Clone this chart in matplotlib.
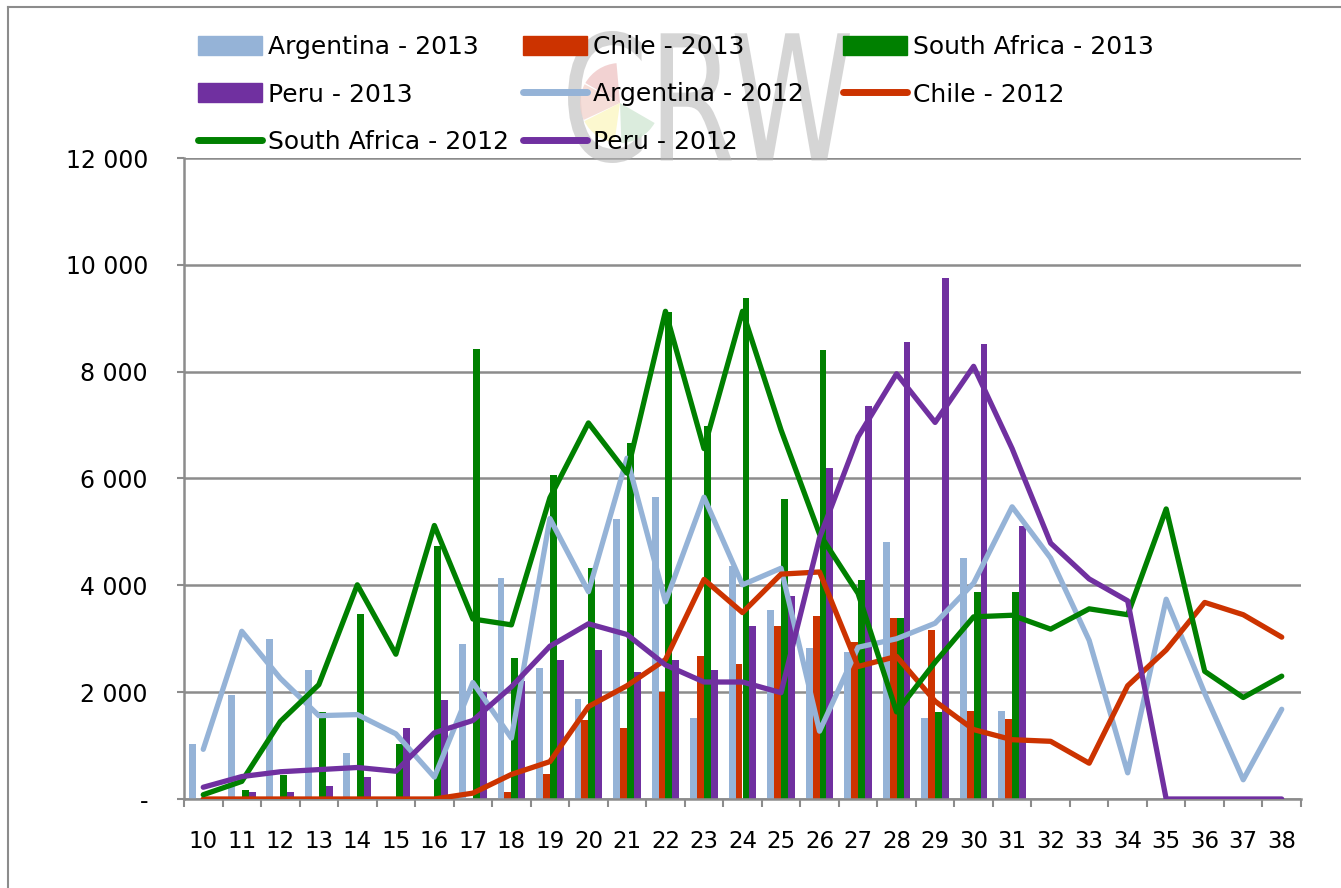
import numpy as np
import matplotlib.pyplot as plt
from matplotlib.patches import Rectangle, PathPatch, Wedge
from matplotlib.lines import Line2D
from matplotlib.textpath import TextPath
from matplotlib.font_manager import FontProperties
from matplotlib.transforms import Affine2D

weeks = list(range(10, 39))

# 2013 weekly volumes (bars), weeks 10-31
arg_2013 = [1030, 1950, 3000, 2410, 870, 0, 0, 2900, 4140, 2450, 1880, 5250, 5660, 1510,
            4370, 3540, 2820, 2750, 4810, 1510, 4510, 1650]
chi_2013 = [0, 0, 0, 0, 0, 0, 0, 0, 130, 460, 1470, 1320, 2000, 2670,
            2530, 3240, 3420, 2930, 3390, 3160, 1650, 1500]
saf_2013 = [0, 160, 440, 1620, 3460, 1030, 4730, 8430, 2640, 6070, 4320, 6670, 9120, 6980,
            9380, 5610, 8400, 4100, 3390, 1630, 3870, 3870]
per_2013 = [0, 130, 130, 240, 420, 1320, 1850, 2000, 2200, 2600, 2790, 2370, 2600, 2410,
            3240, 3800, 6200, 7360, 8560, 9750, 8510, 5120]

# 2012 weekly volumes (lines), weeks 10-38
arg_2012 = [930, 3140, 2260, 1560, 1580, 1220, 410, 2180, 1140, 5250, 3880, 6380, 3690, 5650,
            4010, 4320, 1270, 2840, 3000, 3290, 4040, 5470, 4510, 2970, 490, 3740, 1980, 360, 1680]
chi_2012 = [0, 0, 0, 0, 0, 0, 0, 110, 460, 700, 1730, 2120, 2610, 4110,
            3490, 4210, 4250, 2480, 2670, 1830, 1300, 1110, 1080, 670, 2120, 2790, 3680, 3450, 3030]
saf_2012 = [80, 330, 1450, 2140, 4010, 2710, 5120, 3370, 3260, 5640, 7040, 6100, 9130, 6560,
            9130, 6910, 4960, 3850, 1630, 2560, 3410, 3440, 3180, 3560, 3450, 5430, 2390, 1900, 2300]
per_2012 = [220, 420, 510, 550, 590, 520, 1240, 1470, 2100, 2860, 3280, 3080, 2510, 2190,
            2190, 1990, 4890, 6780, 7960, 7050, 8100, 6560, 4790, 4120, 3710, 0, 0, 0, 0]

c_arg = '#95B3D7'
c_chi = '#CC3300'
c_saf = '#008000'
c_per = '#7030A0'

W, H = 1341, 888


def pad(v):
    return np.array(v + [np.nan] * (len(weeks) - len(v)), dtype=float)


fig = plt.figure(figsize=(W / 100, H / 100), dpi=100)
ax = fig.add_axes([184 / W, 1 - 799 / H, 1117 / W, 641 / H])

x = np.arange(len(weeks))
w = 0.18
bars = [(arg_2013, c_arg, 'Argentina - 2013'), (chi_2013, c_chi, 'Chile - 2013'),
        (saf_2013, c_saf, 'South Africa - 2013'), (per_2013, c_per, 'Peru - 2013')]
handles = {}
for i, (vals, col, lab) in enumerate(bars):
    ax.bar(x + (i - 1.5) * w, pad(vals), width=w, color=col, zorder=2)
    handles[lab] = Rectangle((0, 0), 1, 1, color=col)

lines = [(arg_2012, c_arg, 'Argentina - 2012'), (chi_2012, c_chi, 'Chile - 2012'),
         (saf_2012, c_saf, 'South Africa - 2012'), (per_2012, c_per, 'Peru - 2012')]
for vals, col, lab in lines:
    ax.plot(x, vals, color=col, lw=3.8, solid_joinstyle='round', solid_capstyle='round', zorder=3)
    handles[lab] = Line2D([], [], color=col, lw=5, solid_capstyle='round')

ax.set_xlim(-0.5, len(weeks) - 0.5)
ax.set_ylim(0, 12000)
ax.set_yticks(range(0, 12001, 2000))
ax.set_yticklabels(['-'] + ['{:,}'.format(v).replace(',', ' ') for v in range(2000, 12001, 2000)],
                   fontsize=17)
ax.set_xticks(x)
ax.set_xticklabels([str(wk) for wk in weeks], fontsize=16.5)
ax.set_xticks(np.arange(-0.5, len(weeks), 1), minor=True)
ax.tick_params(axis='x', which='major', length=0, pad=22)
ax.tick_params(axis='x', which='minor', length=6, width=1.5, color='#8c8c8c')
ax.tick_params(axis='y', length=5, width=1.5, color='#8c8c8c', pad=21)

ax.grid(axis='y', color='#8c8c8c', lw=1.8, zorder=0)
ax.set_axisbelow(True)
for s in ['top', 'right']:
    ax.spines[s].set_visible(False)
for s in ['left', 'bottom']:
    ax.spines[s].set_color('#8c8c8c')
    ax.spines[s].set_linewidth(1.8)

# CRW watermark (drawn under the legend)
tdisp = fig.dpi_scale_trans
tp = TextPath((0, 0), 'CRW', size=1, prop=FontProperties(family='Liberation Sans Narrow'))
ext = tp.get_extents()
tr = (Affine2D().translate(-ext.x0, -ext.y0)
      .scale(282 / ext.width, 132 / ext.height)
      .translate(568, H - 163).scale(0.01) + tdisp)
fig.add_artist(PathPatch(tp, transform=tr, facecolor='#b4b4b4', lw=0, alpha=0.55, zorder=1))
cx, cy, r = 6.20, (H - 103) / 100, 0.40
for a1, a2, col in [(95, 150, '#eec4c4'), (152, 205, '#f2d2cc'),
                    (207, 262, '#fbf6c0'), (272, 330, '#cfe6d2')]:
    fig.add_artist(Wedge((cx, cy), r, a1, a2, transform=tdisp, facecolor=col, lw=0,
                         alpha=0.75, zorder=1))

# legend: three columns, filled row by row
columns = [(198, ['Argentina - 2013', 'Peru - 2013', 'South Africa - 2012']),
           (523, ['Chile - 2013', 'Argentina - 2012', 'Peru - 2012']),
           (843, ['South Africa - 2013', 'Chile - 2012'])]
for xpos, labs in columns:
    leg = fig.legend([handles[k] for k in labs], labs, frameon=False, fontsize=18,
                     loc='upper left', bbox_to_anchor=(xpos / W, 1 - 35 / H),
                     handlelength=2.56, handleheight=0.8, handletextpad=0.25,
                     labelspacing=0.94, borderpad=0, borderaxespad=0)
    leg.set_zorder(3)

# outer chart frame
fig.add_artist(Line2D([8 / W, 8 / W], [0, 1 - 7 / H], color='#8c8c8c', lw=1.5))
fig.add_artist(Line2D([8 / W, 1], [1 - 7 / H, 1 - 7 / H], color='#8c8c8c', lw=1.5))

fig.savefig('out.png', dpi=100)
